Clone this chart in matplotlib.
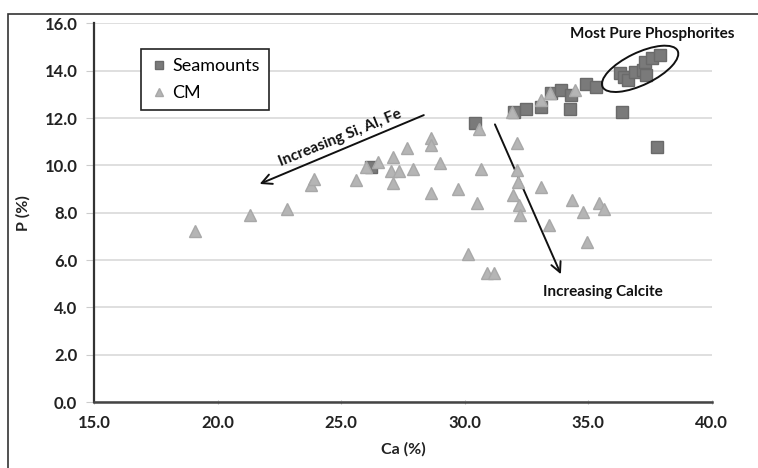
import matplotlib.pyplot as plt
from matplotlib.patches import Ellipse, Rectangle

plt.rcParams['font.family'] = ['Lato', 'DejaVu Sans']

# Seamount samples (Ca %, P %)
sea_ca = [26.2, 30.4, 32.0, 32.5, 33.1, 33.5, 33.9, 34.3, 34.25, 34.9, 35.3,
          36.35, 36.3, 36.45, 36.6, 36.9, 37.2, 37.3, 37.35, 37.6, 37.9, 37.8]
sea_p = [9.94, 11.8, 12.25, 12.4, 12.48, 13.04, 13.18, 12.97, 12.4, 13.46, 13.32,
         12.25, 13.89, 13.75, 13.6, 13.96, 14.03, 14.38, 13.8, 14.52, 14.66, 10.77]

# Continental margin samples (Ca %, P %)
cm_ca = [19.1, 21.3, 22.8, 23.8, 23.9, 25.6, 26.0, 26.5, 27.1, 27.0, 27.35, 27.1,
         27.65, 27.9, 28.65, 28.65, 28.65, 29.0, 29.75, 30.65, 30.6, 30.5, 30.15,
         30.9, 31.2, 32.1, 31.9, 32.1, 32.15, 31.95, 32.2, 32.25, 33.1, 33.4,
         34.35, 34.8, 34.95, 35.45, 35.65, 33.1, 33.45, 34.45]
cm_p = [7.24, 7.9, 8.14, 9.17, 9.42, 9.38, 9.94, 10.15, 10.36, 9.77, 9.77, 9.24,
        10.72, 9.84, 11.14, 10.86, 8.84, 10.08, 9.02, 9.84, 11.52, 8.42, 6.24,
        5.46, 5.46, 10.93, 12.27, 9.8, 9.31, 8.75, 8.32, 7.9, 9.07, 7.48,
        8.53, 8.04, 6.77, 8.39, 8.14, 12.76, 13.04, 13.18]

x_ticks = [15, 20, 25, 30, 35, 40]
y_ticks = [0, 2, 4, 6, 8, 10, 12, 14, 16]

fig = plt.figure(figsize=(7.58, 4.68), dpi=100)
ax = fig.add_axes([0.124, 0.141, 0.815, 0.809])

# outer frame of the original figure (left and top edges visible)
fig.patches.append(Rectangle((8 / 758, -0.1), 1.2, 1.1 - 14 / 468, transform=fig.transFigure,
                             fill=False, edgecolor='#333333', linewidth=1.2))

ax.plot(sea_ca, sea_p, 's', color='#7a7a7a', markeredgecolor='#6a6a6a',
        markersize=8, label='Seamounts', zorder=3)
ax.plot(cm_ca, cm_p, '^', color='#b5b5b5', markeredgecolor='#a8a8a8',
        markersize=8.5, label='CM', zorder=4)

ax.set_xlim(15, 40)
ax.set_ylim(0, 16)
ax.set_xticks(x_ticks)
ax.set_yticks(y_ticks)
ax.set_xticklabels(['%.1f' % v for v in x_ticks], fontsize=12, fontweight='bold', color='#222222')
ax.set_yticklabels(['%.1f' % v for v in y_ticks], fontsize=12, fontweight='bold', color='#222222')
ax.tick_params(axis='y', length=6, color='#cccccc', pad=6)
ax.tick_params(axis='x', length=3, direction='inout', color='#bbbbbb', pad=8)
ax.grid(axis='y', color='#d9d9d9', linewidth=1.2)
ax.set_axisbelow(True)

for side in ['top', 'right']:
    ax.spines[side].set_visible(False)
ax.spines['left'].set_color('#333333')
ax.spines['left'].set_linewidth(1.6)
ax.spines['bottom'].set_color('#444444')
ax.spines['bottom'].set_linewidth(1.8)

ax.set_xlabel('Ca (%)', fontsize=11.5, fontweight='bold', color='#222222', labelpad=8)
ax.set_ylabel('P (%)', fontsize=11.5, fontweight='bold', color='#222222', labelpad=10)

leg = ax.legend(loc='upper left', bbox_to_anchor=(0.062, 0.955), fontsize=13,
                fancybox=False, edgecolor='#222222', framealpha=1,
                handletextpad=0.2, handlelength=1.0, markerscale=0.7,
                borderpad=0.5, labelspacing=0.6)
leg.get_frame().set_linewidth(1.2)

# annotations
ax.add_patch(Ellipse((37.1, 14.08), 3.4, 1.35, angle=27, fill=False,
                     edgecolor='#111111', linewidth=1.4, zorder=5))
ax.text(37.6, 15.55, 'Most Pure Phosphorites', fontsize=11, fontweight='bold',
        ha='center', va='center', color='#111111')

ax.annotate('', xy=(21.6, 9.17), xytext=(28.45, 12.17),
            arrowprops=dict(arrowstyle='->', color='#111111', lw=1.4,
                            mutation_scale=18))
ax.text(24.95, 11.15, 'Increasing Si, Al, Fe', fontsize=11, fontweight='bold',
        rotation=22, ha='center', va='center', color='#111111')

ax.annotate('', xy=(33.94, 5.29), xytext=(31.18, 11.84),
            arrowprops=dict(arrowstyle='->', color='#111111', lw=1.4,
                            mutation_scale=18))
ax.text(35.6, 4.65, 'Increasing Calcite', fontsize=11, fontweight='bold',
        ha='center', va='center', color='#111111')

fig.savefig('out.png', dpi=100)
